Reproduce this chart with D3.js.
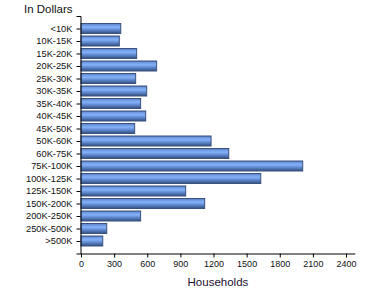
<!DOCTYPE html>
<html><head><meta charset="utf-8">
<script src="https://cdn.jsdelivr.net/npm/d3@7"></script>
<style>body{margin:0;background:#fff}svg{display:block}</style>
</head><body>
<svg id="c" width="370" height="300"></svg>
<script>
const categories = ["<10K","10K-15K","15K-20K","20K-25K","25K-30K","30K-35K","35K-40K","40K-45K","45K-50K","50K-60K","60K-75K","75K-100K","100K-125K","125K-150K","150K-200K","200K-250K","250K-500K",">500K"];
const households = [360,347,504,685,495,595,540,586,486,1178,1338,2008,1628,948,1120,540,233,197];
const xTicks = [0,300,600,900,1200,1500,1800,2100,2400];
const title = "In Dollars";
const xTitle = "Households";

const svg = d3.select("#c");
const defs = svg.append("defs");
const g = defs.append("linearGradient").attr("id","bg").attr("x1",0).attr("y1",0).attr("x2",0).attr("y2",1);
[[0,"#5273ad"],[0.15,"#6e99e2"],[0.38,"#84b1f8"],[0.62,"#628bd2"],[0.85,"#44679f"],[1,"#354f7c"]]
  .forEach(([o,c])=>g.append("stop").attr("offset",o).attr("stop-color",c));

const x = d3.scaleLinear().domain([0,2480]).range([81,81+2480*(265/2400)]);
const y = d3.scalePoint().domain(categories).range([16,253.5]).padding(1);

svg.append("g").selectAll("rect").data(categories).join("rect")
  .attr("x",x(0)).attr("y",d=>y(d)-5).attr("height",10)
  .attr("width",(d,i)=>x(households[i])-x(0))
  .attr("fill","url(#bg)").attr("stroke","#3b5280").attr("stroke-width",1);

const ya = svg.append("g").attr("transform",`translate(${x(0)-0.5},0)`)
  .call(d3.axisLeft(y).tickSize(4).tickSizeOuter(4));
ya.selectAll("text").attr("font-family","Liberation Sans, Arial, sans-serif").attr("font-size","9.3px").attr("fill","#111").attr("dx","-1");
ya.selectAll("line,path").attr("stroke","#000");

const xa = svg.append("g").attr("transform",`translate(0,253.5)`)
  .call(d3.axisBottom(x).tickValues(xTicks).tickFormat(d3.format("d")).tickSize(4).tickSizeOuter(0));
xa.selectAll("text").attr("font-family","Liberation Sans, Arial, sans-serif").attr("font-size","9px").attr("fill","#111");
xa.selectAll("line,path").attr("stroke","#000");

svg.append("text").attr("x",24).attr("y",13).text(title)
  .attr("font-family","Liberation Sans, Arial, sans-serif").attr("font-size","11.5px").attr("fill","#111");
svg.append("text").attr("x",(x.range()[0]+x.range()[1])/2).attr("y",286).attr("text-anchor","middle").text(xTitle)
  .attr("font-family","Liberation Sans, Arial, sans-serif").attr("font-size","11.5px").attr("fill","#1a1030");
</script>
</body></html>
